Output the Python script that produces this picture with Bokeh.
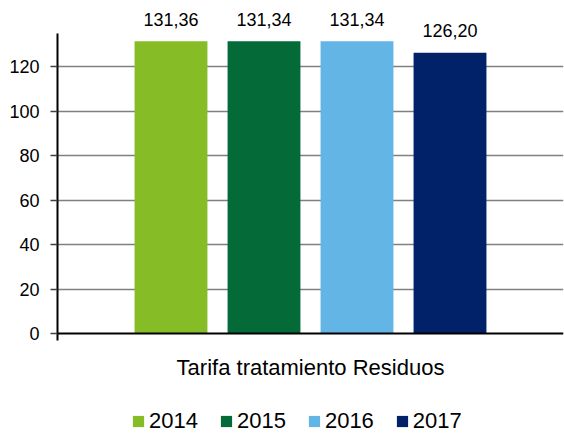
from bokeh.plotting import figure
from bokeh.models import Range1d, Legend, LegendItem, ColumnDataSource, FixedTicker, Span
from bokeh.transform import dodge
from bokeh.core.properties import value
from bokeh.embed import file_html
from bokeh.resources import INLINE

category = ["Tarifa tratamiento Residuos"]
years = ["2014", "2015", "2016", "2017"]
values = [131.36, 131.34, 131.34, 126.20]
colors = ["#86BC25", "#046A38", "#62B5E5", "#012169"]
y_ticks = [0, 20, 40, 60, 80, 100, 120]
y_axis_max = 135

FONT = "Liberation Sans"

p = figure(frame_width=506, frame_height=428, x_range=category, y_range=Range1d(-44.94, 147.42),
           output_backend="svg", toolbar_location=None,
           min_border_left=57, min_border_right=1, min_border_top=5, min_border_bottom=0)
p.outline_line_color = None
p.background_fill_color = "white"
p.border_fill_color = "white"

step = 0.1838
bw = 0.144
offsets = [(i - 1.5) * step for i in range(len(years))]

items = []
for yr, v, c, off in zip(years, values, colors, offsets):
    src = ColumnDataSource(dict(x=category, top=[v], lab=[f"{v:.2f}".replace(".", ",")]))
    r = p.vbar(x=dodge("x", off, range=p.x_range), top="top", width=bw, source=src,
               fill_color=c, line_color=None)
    p.text(x=dodge("x", off, range=p.x_range), y="top", text="lab", source=src,
           text_align="center", text_baseline="alphabetic", y_offset=-22,
           text_font=value(FONT), text_font_size="18px", text_color="#000000")
    items.append(LegendItem(label=yr, renderers=[r]))

# category axis: line at zero and category label
p.xaxis.visible = False
p.add_layout(Span(location=0, dimension="width", line_color="black", line_width=2))
cat_src = ColumnDataSource(dict(x=category, y=[0]))
p.text(x="x", y="y", text="x", source=cat_src, text_align="center",
       text_baseline="alphabetic", y_offset=34,
       text_font=value(FONT), text_font_size="22px", text_color="#000000")

# value axis
p.yaxis.ticker = FixedTicker(ticks=y_ticks)
p.yaxis.bounds = (-3.2, y_axis_max)
p.yaxis.axis_line_color = "black"
p.yaxis.axis_line_width = 2
p.yaxis.major_tick_out = 7
p.yaxis.major_tick_in = 0
p.yaxis.major_tick_line_color = "#404040"
p.yaxis.major_tick_line_width = 1.5
p.yaxis.minor_tick_line_color = None
p.yaxis.major_label_text_font = FONT
p.yaxis.major_label_text_font_size = "18px"
p.yaxis.major_label_text_color = "black"
p.yaxis.major_label_standoff = 11

p.xgrid.grid_line_color = None
p.ygrid.grid_line_color = "#808080"
p.ygrid.grid_line_width = 1.5
p.ygrid.ticker = FixedTicker(ticks=y_ticks[1:])

legend = Legend(items=items, orientation="horizontal", location=(74, -1),
                glyph_width=14, glyph_height=14, label_standoff=4, spacing=21,
                label_text_font=FONT, label_text_font_size="22px",
                label_text_color="black", label_height=14,
                border_line_color=None, background_fill_alpha=0,
                padding=0, margin=0)
p.add_layout(legend)

open("out.html", "w").write(file_html(p, INLINE))
